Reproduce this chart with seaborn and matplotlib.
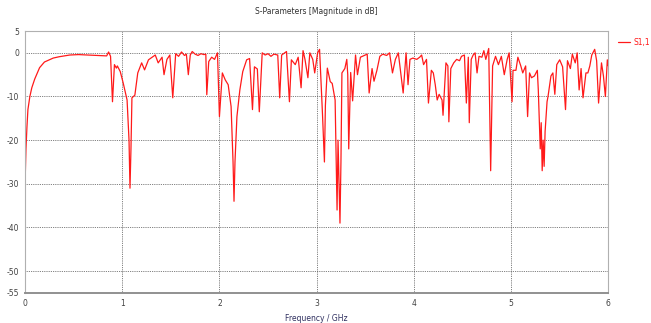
import pandas as pd
import seaborn as sns
import matplotlib
matplotlib.use('Agg')
import matplotlib.pyplot as plt

# S11 trace (GHz / dB)
freq = [0.000, 0.003, 0.01, 0.02, 0.03, 0.05, 0.07, 0.10, 0.15, 0.20, 0.29, 0.35, 0.46, 0.55, 0.65,
        0.75, 0.84, 0.86, 0.88, 0.90, 0.92, 0.94, 0.95, 0.98, 1.01, 1.05, 1.07, 1.08, 1.09, 1.10,
        1.13, 1.16, 1.20, 1.23, 1.27, 1.34, 1.37, 1.41, 1.43, 1.46, 1.49, 1.52, 1.55, 1.58, 1.61,
        1.64, 1.66, 1.68, 1.70, 1.72, 1.75, 1.78, 1.81, 1.84, 1.86, 1.87, 1.89, 1.92, 1.95, 1.98,
        2.00, 2.03, 2.06, 2.09, 2.12, 2.14, 2.15, 2.16, 2.18, 2.21, 2.24, 2.28, 2.31, 2.34, 2.36,
        2.39, 2.41, 2.44, 2.47, 2.50, 2.53, 2.56, 2.60, 2.62, 2.64, 2.69, 2.72, 2.74, 2.78, 2.81,
        2.84, 2.86, 2.88, 2.91, 2.93, 2.96, 2.98, 3.01, 3.03, 3.06, 3.08, 3.09, 3.11, 3.14, 3.16,
        3.19, 3.21, 3.22, 3.23, 3.24, 3.25, 3.26, 3.29, 3.31, 3.32, 3.33, 3.35, 3.37, 3.40, 3.42,
        3.45, 3.50, 3.52, 3.54, 3.57, 3.59, 3.62, 3.65, 3.68, 3.72, 3.75, 3.78, 3.81, 3.84, 3.86,
        3.89, 3.92, 3.94, 3.96, 3.99, 4.03, 4.06, 4.08, 4.10, 4.13, 4.15, 4.18, 4.20, 4.22, 4.24,
        4.26, 4.29, 4.30, 4.33, 4.35, 4.36, 4.38, 4.41, 4.44, 4.47, 4.49, 4.52, 4.54, 4.56, 4.57,
        4.59, 4.61, 4.63, 4.65, 4.67, 4.70, 4.72, 4.74, 4.77, 4.79, 4.81, 4.84, 4.87, 4.90, 4.93,
        4.96, 4.98, 5.01, 5.02, 5.05, 5.07, 5.10, 5.12, 5.15, 5.17, 5.19, 5.21, 5.24, 5.27, 5.28,
        5.29, 5.30, 5.31, 5.32, 5.33, 5.34, 5.35, 5.37, 5.38, 5.41, 5.43, 5.45, 5.47, 5.50, 5.53,
        5.56, 5.58, 5.61, 5.63, 5.66, 5.68, 5.70, 5.72, 5.74, 5.77, 5.79, 5.81, 5.83, 5.86, 5.88,
        5.90, 5.93, 5.95, 5.97, 5.99, 6.00]
s11 = [-50, -28, -22, -17, -13, -10, -8, -6, -3.4, -2.1, -1.2, -0.9, -0.5, -0.4, -0.5,
       -0.6, -0.7, 0.2, -0.8, -11.2, -2.7, -3.5, -3.0, -4.3, -6.9, -10.8, -20, -31, -22, -10.3,
       -9.7, -4.6, -2.3, -3.9, -1.6, -0.5, -2.3, -1, -5, -1.5, -0.5, -10.3, -0.2, -0.8, 0.2,
       -0.6, -0.3, -5, -0.5, 0.3, -0.3, -0.6, -0.2, -0.4, -0.3, -9.6, -2, -1, -1.5, 0,
       -14.6, -4.6, -6.2, -7.3, -12.3, -25, -34, -25, -14.6, -8.5, -4.3, -1.6, -1.3, -13, -3.2,
       -3.7, -13.5, 0, -0.5, -0.2, -0.8, -0.3, -0.5, -10.3, -0.5, 0.3, -11.2, -1.6, -2.7, -1,
       -8, 0.5, -1.5, -5.7, 0, -1.5, -4.6, 0, 0.8, -14, -25, -12, -3.5, -6.6, -7,
       -10.8, -36, -20, -30, -39, -25, -4.6, -3.6, -1.5, -5, -22, -4.5, -11, -0.5, -5,
       -1, -0.5, -0.3, -9.2, -3.6, -6.5, -4, -0.8, -0.3, -0.6, 0, -4.6, -1.5, 0, -3.6,
       -9.2, 0, -7.3, -1.5, -1.2, -1.5, -1, -0.5, -2.7, -1.5, -11.5, -4, -4.6, -7.3, -10.8,
       -9.5, -10.8, -14.3, -2.3, -3, -15.8, -3.6, -2.3, -1.5, -1.8, -0.8, -0.5, -11.5, -1, -16,
       -1.5, -0.5, 0, -4.6, -0.8, -1, 0.5, -1.5, 1, -27, -3, -0.8, -2.7, -0.8, -5,
       -1.5, 0, -11.2, -4, -4, -1, -3, -4.6, -3, -14.6, -4.6, -5.7, -5.3, -4, -8.5,
       -15, -22, -16, -27, -20, -26, -18, -11.2, -10, -5.3, -4.6, -9.5, -2.7, -1.6, -3.2,
       -13, -1.8, -3.6, -0.3, -2.3, 0, -8.5, -3.6, -10.3, -4.6, -4.6, -3, -0.5, 0.8, -1.8,
       -11.5, -2.3, -5.3, -10, -1.6, -3]

x_ticks = [0, 1, 2, 3, 4, 5, 6]
y_ticks = [5, 0, -10, -20, -30, -40, -50, -55]

df = pd.DataFrame({'freq': freq, 'S1,1': s11})

sns.set_style('white')
plt.rcParams['font.family'] = ['DejaVu Sans']

fig = plt.figure(figsize=(6.51, 3.23), dpi=100)
ax = fig.add_axes([0.0384, 0.093, 0.896, 0.811])

sns.lineplot(data=df, x='freq', y='S1,1', color='#ff1a1a', linewidth=0.9,
             estimator=None, sort=False, label='S1,1', ax=ax)

ax.set_xlim(0, 6)
ax.set_ylim(-55, 5)
ax.set_xticks(x_ticks)
ax.set_yticks(y_ticks)
ax.set_xticklabels([str(t) for t in x_ticks])
ax.set_yticklabels([str(t) for t in y_ticks])
ax.tick_params(labelsize=5.5, colors='#404040', length=0, pad=4)
ax.grid(True, color='#555555', linestyle=(0, (1, 1.2)), linewidth=0.6)

for side in ['top', 'right', 'left']:
    ax.spines[side].set_color('#b0b0b0')
    ax.spines[side].set_linewidth(0.8)
ax.spines['bottom'].set_color('#909090')
ax.spines['bottom'].set_linewidth(1.4)

ax.set_xlabel('Frequency / GHz', fontsize=5.5, color='#303060', labelpad=5)
ax.set_ylabel('')
ax.set_title('S-Parameters [Magnitude in dB]', fontsize=5.5, color='#303030', pad=12)

leg = ax.legend(loc='upper left', bbox_to_anchor=(1.005, 1.0), frameon=False,
                fontsize=5.5, labelcolor='#ff1a1a', handlelength=1.6, handletextpad=0.4)

fig.savefig('out.png', dpi=100)
